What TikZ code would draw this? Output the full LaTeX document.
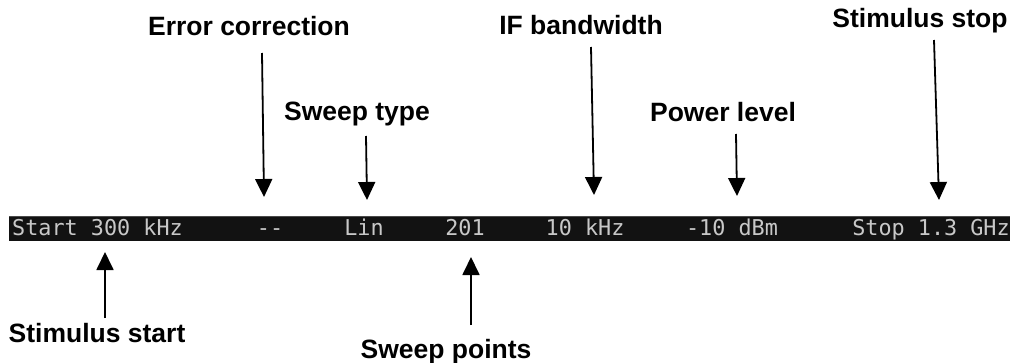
\documentclass[tikz,border=0pt]{standalone}
\usepackage{fontspec}
\setmainfont{Liberation Sans}
\newfontfamily\barfont{DejaVu Sans Mono}
\usepackage{xcolor}
\usetikzlibrary{arrows.meta,positioning}
\definecolor{barbg}{HTML}{121212}
\definecolor{bartop}{HTML}{4A4A4A}
\definecolor{bartext}{HTML}{C8C8C8}

\begin{document}
\begin{tikzpicture}[x=1pt,y=-1pt,
    lbl/.style={anchor=base,inner sep=0pt,font=\fontsize{26.5}{30}\selectfont\bfseries},
    fld/.style={anchor=base,inner sep=0pt,text=bartext,font=\barfont\fontsize{21.8}{24}\selectfont},
    ptr/.style={line width=1.8pt,-{Triangle[length=18pt,width=17pt]}}]
    \useasboundingbox (0,0) rectangle (1012,362);
    % status bar
    \fill[barbg] (9,216) rectangle (1010,241);
    \draw[bartop,line width=1pt] (9,216.5) -- (1010,216.5);
    % bar fields
    \node[fld,anchor=base west] (start) at (12,235) {Start 300 kHz};
    \node[fld] (corr) at (270,235) {--};
    \node[fld] (type) at (364,235) {Lin};
    \node[fld] (pts) at (465,235) {201};
    \node[fld] (ifbw) at (585,235) {10 kHz};
    \node[fld] (pwr) at (732,235) {-10 dBm};
    \node[fld] (stop) at (931,235) {Stop 1.3 GHz};
    % labels
    \node[lbl] (corrlbl) at (249,35.5) {Error correction};
    \node[lbl] (typelbl) at (357,120.5) {Sweep type};
    \node[lbl] (ifbwlbl) at (581,34.5) {IF bandwidth};
    \node[lbl] (pwrlbl) at (723,121) {Power level};
    \node[lbl] (stoplbl) at (920,27) {Stimulus stop};
    \node[lbl] (startlbl) at (97,342) {Stimulus start};
    \node[lbl] (ptslbl) at (446,358) {Sweep points};
    % arrow ends
    \coordinate (corrA) at (262,53);   \coordinate (corrB) at (264,197);
    \coordinate (typeA) at (366,136);  \coordinate (typeB) at (367,200);
    \coordinate (ifbwA) at (591,47);   \coordinate (ifbwB) at (594,195);
    \coordinate (pwrA) at (736,134);   \coordinate (pwrB) at (737,196);
    \coordinate (stopA) at (934,40);   \coordinate (stopB) at (939,200);
    \coordinate (startA) at (105,318); \coordinate (startB) at (105,252);
    \coordinate (ptsA) at (471,325);   \coordinate (ptsB) at (471,257);
    % arrows
    \draw[ptr] (corrA) -- (corrB);
    \draw[ptr] (typeA) -- (typeB);
    \draw[ptr] (ifbwA) -- (ifbwB);
    \draw[ptr] (pwrA) -- (pwrB);
    \draw[ptr] (stopA) -- (stopB);
    \draw[ptr] (startA) -- (startB);
    \draw[ptr] (ptsA) -- (ptsB);
\end{tikzpicture}
\end{document}
